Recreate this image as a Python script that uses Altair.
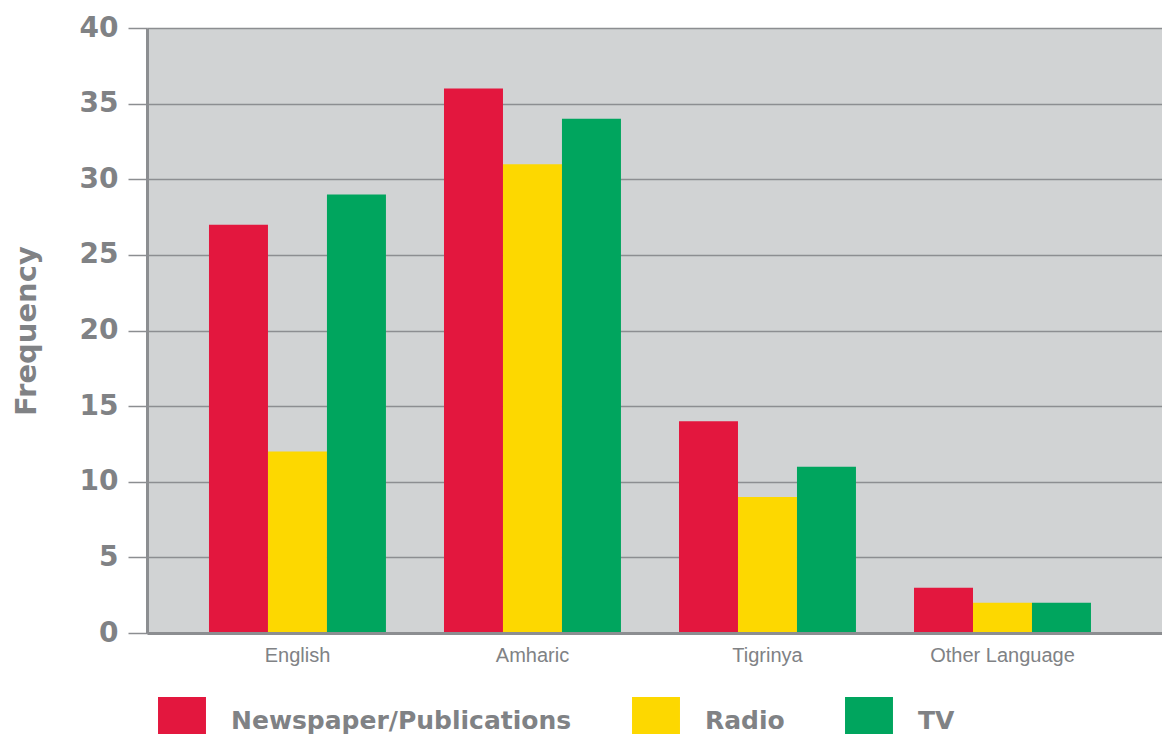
import altair as alt
import pandas as pd

languages = ["English", "Amharic", "Tigrinya", "Other Language"]
media = ["Newspaper/Publications", "Radio", "TV"]
newspaper = [27, 36, 14, 3]
radio = [12, 31, 9, 2]
tv = [29, 34, 11, 2]
colors = ["#e3173e", "#fdd800", "#00a55e"]
y_ticks = [0, 5, 10, 15, 20, 25, 30, 35, 40]

rows = []
for m, vals in zip(media, [newspaper, radio, tv]):
    for lang, v in zip(languages, vals):
        rows.append({"language": lang, "medium": m, "value": v})
df = pd.DataFrame(rows)

grey = "#808285"
line_grey = "#8c8e91"

chart = (
    alt.Chart(df)
    .mark_bar()
    .encode(
        x=alt.X(
            "language:N",
            sort=languages,
            scale=alt.Scale(paddingInner=0.247, paddingOuter=0.283, align=0.466),
            axis=alt.Axis(
                title=None,
                labelAngle=0,
                ticks=False,
                domain=True,
                domainColor=line_grey,
                domainWidth=3,
                labelFont="Liberation Sans",
                labelFontSize=20,
                labelColor=grey,
                labelPadding=12,
                zindex=1,
            ),
        ),
        xOffset=alt.XOffset(
            "medium:N", sort=media, scale=alt.Scale(paddingInner=0, paddingOuter=0)
        ),
        y=alt.Y(
            "value:Q",
            scale=alt.Scale(domain=[0, 40], nice=False),
            axis=alt.Axis(
                values=y_ticks,
                title="Frequency",
                titleFont="DejaVu Sans",
                titleFontWeight="bold",
                titleFontSize=29,
                titleColor=grey,
                titlePadding=38,
                labelFont="DejaVu Sans",
                labelFontWeight="bold",
                labelFontSize=28,
                labelColor=grey,
                labelPadding=10,
                tickSize=19,
                tickColor=line_grey,
                tickWidth=1.5,
                gridColor=line_grey,
                gridWidth=1.5,
                domainColor=line_grey,
                domainWidth=3,
            ),
        ),
        color=alt.Color(
            "medium:N",
            sort=media,
            scale=alt.Scale(domain=media, range=colors),
            legend=alt.Legend(
                title=None,
                orient="none",
                legendX=11,
                legendY=669,
                direction="horizontal",
                symbolType="square",
                symbolSize=2300,
                symbolStrokeWidth=0,
                symbolOpacity=1,
                labelFont="DejaVu Sans",
                labelFontWeight="bold",
                labelFontSize=25,
                labelColor=grey,
                labelOffset=25,
                columnPadding=60,
                padding=0,
                labelLimit=600,
            ),
        ),
    )
    .properties(
        width=1015,
        height=605,
        background="white",
        autosize="none",
        padding={"left": 139, "top": 20, "right": 0, "bottom": 101},
    )
    .configure_view(fill="#d1d3d4", strokeOpacity=0)
)

chart.save("out.html", embed_options={"renderer": "svg", "actions": False})
